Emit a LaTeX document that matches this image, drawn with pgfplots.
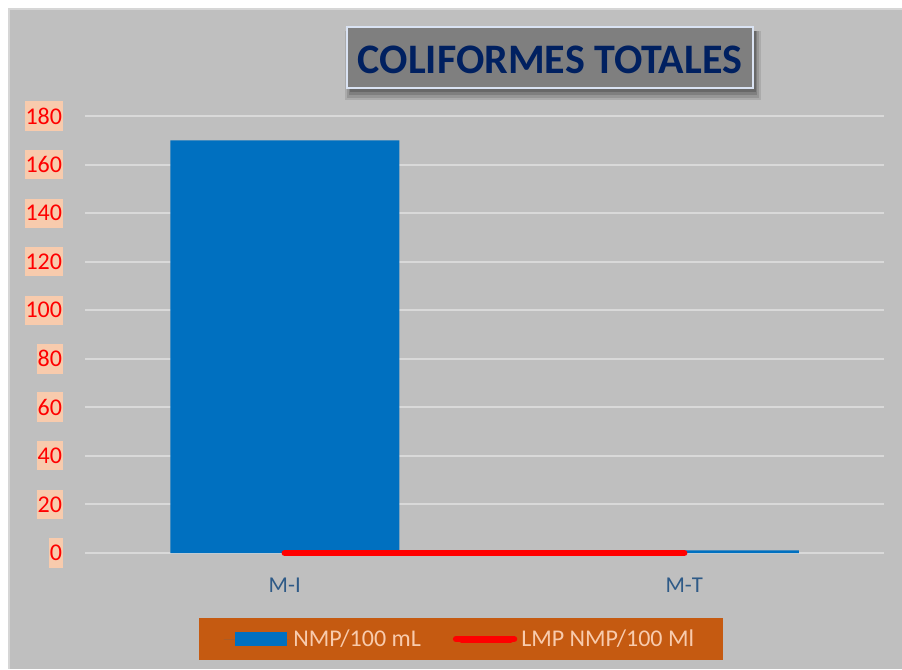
\documentclass[border=0pt]{standalone}
\usepackage{pgfplots}
\pgfplotsset{compat=1.18}
\usepackage{fontspec}
\setmainfont{Carlito}
\definecolor{bgray}{HTML}{BFBFBF}
\definecolor{bord}{HTML}{D6D6D6}
\definecolor{barblue}{HTML}{0070C0}
\definecolor{peach}{HTML}{F8CBAD}
\definecolor{legbg}{HTML}{C55A11}
\definecolor{navy}{HTML}{002060}
\definecolor{catcol}{HTML}{2E5A87}
\definecolor{gridc}{HTML}{D9D9D9}
\definecolor{titlebg}{HTML}{7F7F7F}
\definecolor{titlebd}{HTML}{DAE3F3}
\begin{document}
\begin{tikzpicture}[x=0.75pt,y=0.75pt]
\useasboundingbox (0,0) rectangle (902,669);
\fill[white] (0,0) rectangle (902,669);
\fill[bord] (8,0) rectangle (902,661);
\fill[bgray] (10,0) rectangle (902,659);
% title box with shadow
\fill[black, opacity=0.10] (345,569) rectangle (761,638);
\fill[black, opacity=0.12] (347,571) rectangle (759,638);
\fill[black, opacity=0.15] (349,574) rectangle (757,638);
\fill[black, opacity=0.18] (350,577) rectangle (756,638);
\fill[titlebg] (347,581) rectangle (753,642);
\draw[titlebd, line width=1.5pt] (347,581) rectangle (753,642);
\node[text=navy, inner sep=0pt, font=\bfseries\fontsize{31.5}{36}\selectfont] at (550,609.5) {COLIFORMES TOTALES};
\begin{axis}[
  at={(63.75pt,87pt)}, anchor=south west,
  scale only axis, width=599.25pt, height=327.75pt,
  xmin=-0.5, xmax=1.5, ymin=0, ymax=180,
  ytick={0,20,...,180},
  xtick={0,1}, xticklabels={M-I,M-T},
  axis line style={draw=none},
  major tick length=0pt,
  ymajorgrids, grid style={gridc, line width=1.5pt},
  clip=false,
  /pgf/number format/assume math mode=true,
  yticklabel style={font=\fontsize{18}{20}\selectfont, text=red, fill=peach,
    inner xsep=0.5pt, inner ysep=5pt, anchor=east, xshift=-16.5pt},
  xticklabel style={font=\fontsize{17}{20}\selectfont, text=catcol, anchor=center, yshift=-24pt},
  legend columns=2,
  legend style={at={(0.4706,-0.1968)}, anchor=center, fill=legbg, draw=none,
    text=peach, font=\fontsize{18}{20}\selectfont,
    inner xsep=18.5pt, inner ysep=7pt,
    nodes={inner xsep=3pt, inner ysep=2pt},
    /tikz/every even column/.append style={column sep=21pt}},
]
\addplot[ybar, bar width=171.75pt, fill=barblue, draw=none,
  legend image code/.code={\path (0pt,0pt) -- (49pt,0pt);\fill[barblue] (8pt,-5.25pt) rectangle (47pt,5.25pt);}]
  coordinates {(0,170) (1,1.1)};
\addlegendentry{NMP/100 mL}
\addplot[red, line width=4.8pt, line cap=round,
  legend image code/.code={\path (0pt,0pt) -- (43.5pt,0pt);\draw[red, line width=5.25pt, line cap=round] (4.1pt,0pt) -- (40.9pt,0pt);}]
  coordinates {(0,0) (1,0)};
\addlegendentry{LMP NMP/100 Ml}
\end{axis}
\end{tikzpicture}
\end{document}
